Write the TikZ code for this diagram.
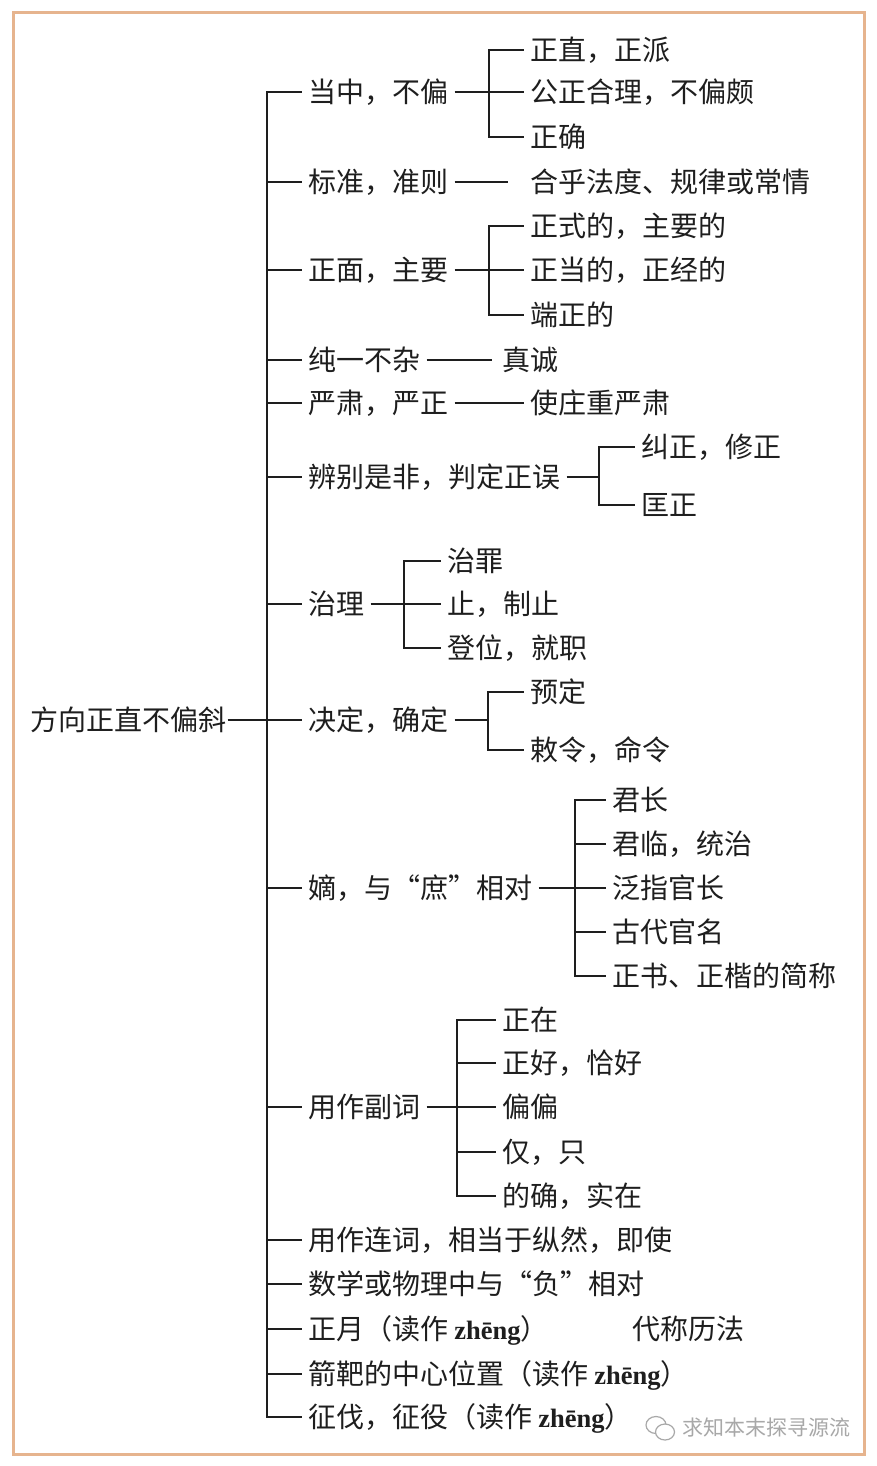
\documentclass[tikz,border=0pt]{standalone}
\usepackage{fontspec}
\setmainfont{Noto Sans CJK SC}
\newfontfamily\pinyin{Liberation Serif}
\definecolor{inkc}{HTML}{1E1E1E}
\definecolor{framec}{HTML}{E6B48E}
\definecolor{markc}{HTML}{A8A8A8}
\tikzset{
  lab/.style={anchor=west,inner sep=0pt,outer xsep=6.5pt,outer ysep=0pt,text=inkc,
    font=\fontsize{28}{34}\selectfont,text height=24.6pt,text depth=3.4pt},
  conn/.style={draw=inkc,line width=2pt},
  wm/.style={anchor=west,inner sep=0pt,text=markc,font=\fontsize{21}{25}\selectfont}
}
\newcommand{\lab}[4]{\node[lab] (#1) at (#2-6.5,#3) {#4};}
\newcommand{\zh}{{\pinyin\bfseries\fontsize{26.5}{30}\selectfont zhēng}}
\begin{document}
\begin{tikzpicture}[x=1pt,y=-1pt]
\useasboundingbox (0,0) rectangle (877,1466);
\fill[white] (0,0) rectangle (877,1466);
\draw[draw=framec,line width=3pt] (13,13) rectangle (864,1454);

\node[lab,outer xsep=1.5pt] (root) at (28.5,720) {方向正直不偏斜};
\lab{a1}{308}{92}{当中，不偏}
\lab{a2}{308}{182}{标准，准则}
\lab{a3}{308}{270}{正面，主要}
\lab{a4}{308}{360}{纯一不杂}
\lab{a5}{308}{403}{严肃，严正}
\lab{a6}{308}{477}{辨别是非，判定正误}
\lab{a7}{308}{604}{治理}
\lab{a8}{308}{720}{决定，确定}
\lab{a9}{308}{888}{嫡，与“庶”相对}
\lab{a10}{308}{1107}{用作副词}
\lab{a11}{308}{1240}{用作连词，相当于纵然，即使}
\lab{a12}{308}{1284}{数学或物理中与“负”相对}
\lab{a13}{308}{1329}{正月（读作 \zh）}
\lab{a14}{308}{1374}{箭靶的中心位置（读作 \zh）}
\lab{a15}{308}{1417}{征伐，征役（读作 \zh）}
\lab{a13x}{632}{1329}{代称历法}

\lab{b1}{530}{50}{正直，正派}
\lab{b2}{530}{92}{公正合理，不偏颇}
\lab{b3}{530}{137}{正确}
\lab{c1}{530}{182}{合乎法度、规律或常情}
\lab{d1}{530}{226}{正式的，主要的}
\lab{d2}{530}{270}{正当的，正经的}
\lab{d3}{530}{315}{端正的}
\lab{e1}{502}{360}{真诚}
\lab{f1}{530}{403}{使庄重严肃}
\lab{g1}{641}{447}{纠正，修正}
\lab{g2}{641}{505}{匡正}
\lab{h1}{447}{561}{治罪}
\lab{h2}{447}{604}{止，制止}
\lab{h3}{447}{648}{登位，就职}
\lab{i1}{530}{692}{预定}
\lab{i2}{530}{750}{敕令，命令}
\lab{j1}{612}{800}{君长}
\lab{j2}{612}{844}{君临，统治}
\lab{j3}{612}{888}{泛指官长}
\lab{j4}{612}{932}{古代官名}
\lab{j5}{612}{976}{正书、正楷的简称}
\lab{k1}{502}{1020}{正在}
\lab{k2}{502}{1063}{正好，恰好}
\lab{k3}{502}{1107}{偏偏}
\lab{k4}{502}{1152}{仅，只}
\lab{k5}{502}{1196}{的确，实在}

\coordinate (trunk) at (267,720);
\coordinate (busb) at (489,92);
\coordinate (busd) at (489,270);
\coordinate (busg) at (599,477);
\coordinate (bush) at (404,604);
\coordinate (busi) at (488,720);
\coordinate (busj) at (575,888);
\coordinate (busk) at (457,1107);
\coordinate (cend) at (508,182);
\coordinate (eend) at (492,360);

\draw[conn] (root.east) -- (a8.west);
\draw[conn] (a1.west) -| (trunk) |- (a15.west);
\foreach \n in {a2,a3,a4,a5,a6,a7,a9,a10,a11,a12,a13,a14}
  \draw[conn] (trunk |- \n.west) -- (\n.west);

\draw[conn] (a1.east) -- (b2.west);
\draw[conn] (b1.west) -| (busb) |- (b3.west);
\draw[conn] (a2.east) -- (cend);
\draw[conn] (a3.east) -- (d2.west);
\draw[conn] (d1.west) -| (busd) |- (d3.west);
\draw[conn] (a4.east) -- (eend);
\draw[conn] (a5.east) -- (f1.west);
\draw[conn] (a6.east) -- (busg);
\draw[conn] (g1.west) -| (busg) |- (g2.west);
\draw[conn] (a7.east) -- (h2.west);
\draw[conn] (h1.west) -| (bush) |- (h3.west);
\draw[conn] (a8.east) -- (busi);
\draw[conn] (i1.west) -| (busi) |- (i2.west);
\draw[conn] (a9.east) -- (j3.west);
\draw[conn] (j1.west) -| (busj) |- (j5.west);
\draw[conn] (busj |- j2.west) -- (j2.west);
\draw[conn] (busj |- j4.west) -- (j4.west);
\draw[conn] (a10.east) -- (k3.west);
\draw[conn] (k1.west) -| (busk) |- (k5.west);
\draw[conn] (busk |- k2.west) -- (k2.west);
\draw[conn] (busk |- k4.west) -- (k4.west);

% watermark
\draw[markc,line width=1.2pt] (656,1425) ellipse (10 and 8.5);
\fill[white] (665,1432) ellipse (9.5 and 8);
\draw[markc,line width=1.2pt] (665,1432) ellipse (9.5 and 8);
\node[wm] (mark) at (682,1428) {求知本末探寻源流};
\end{tikzpicture}
\end{document}
